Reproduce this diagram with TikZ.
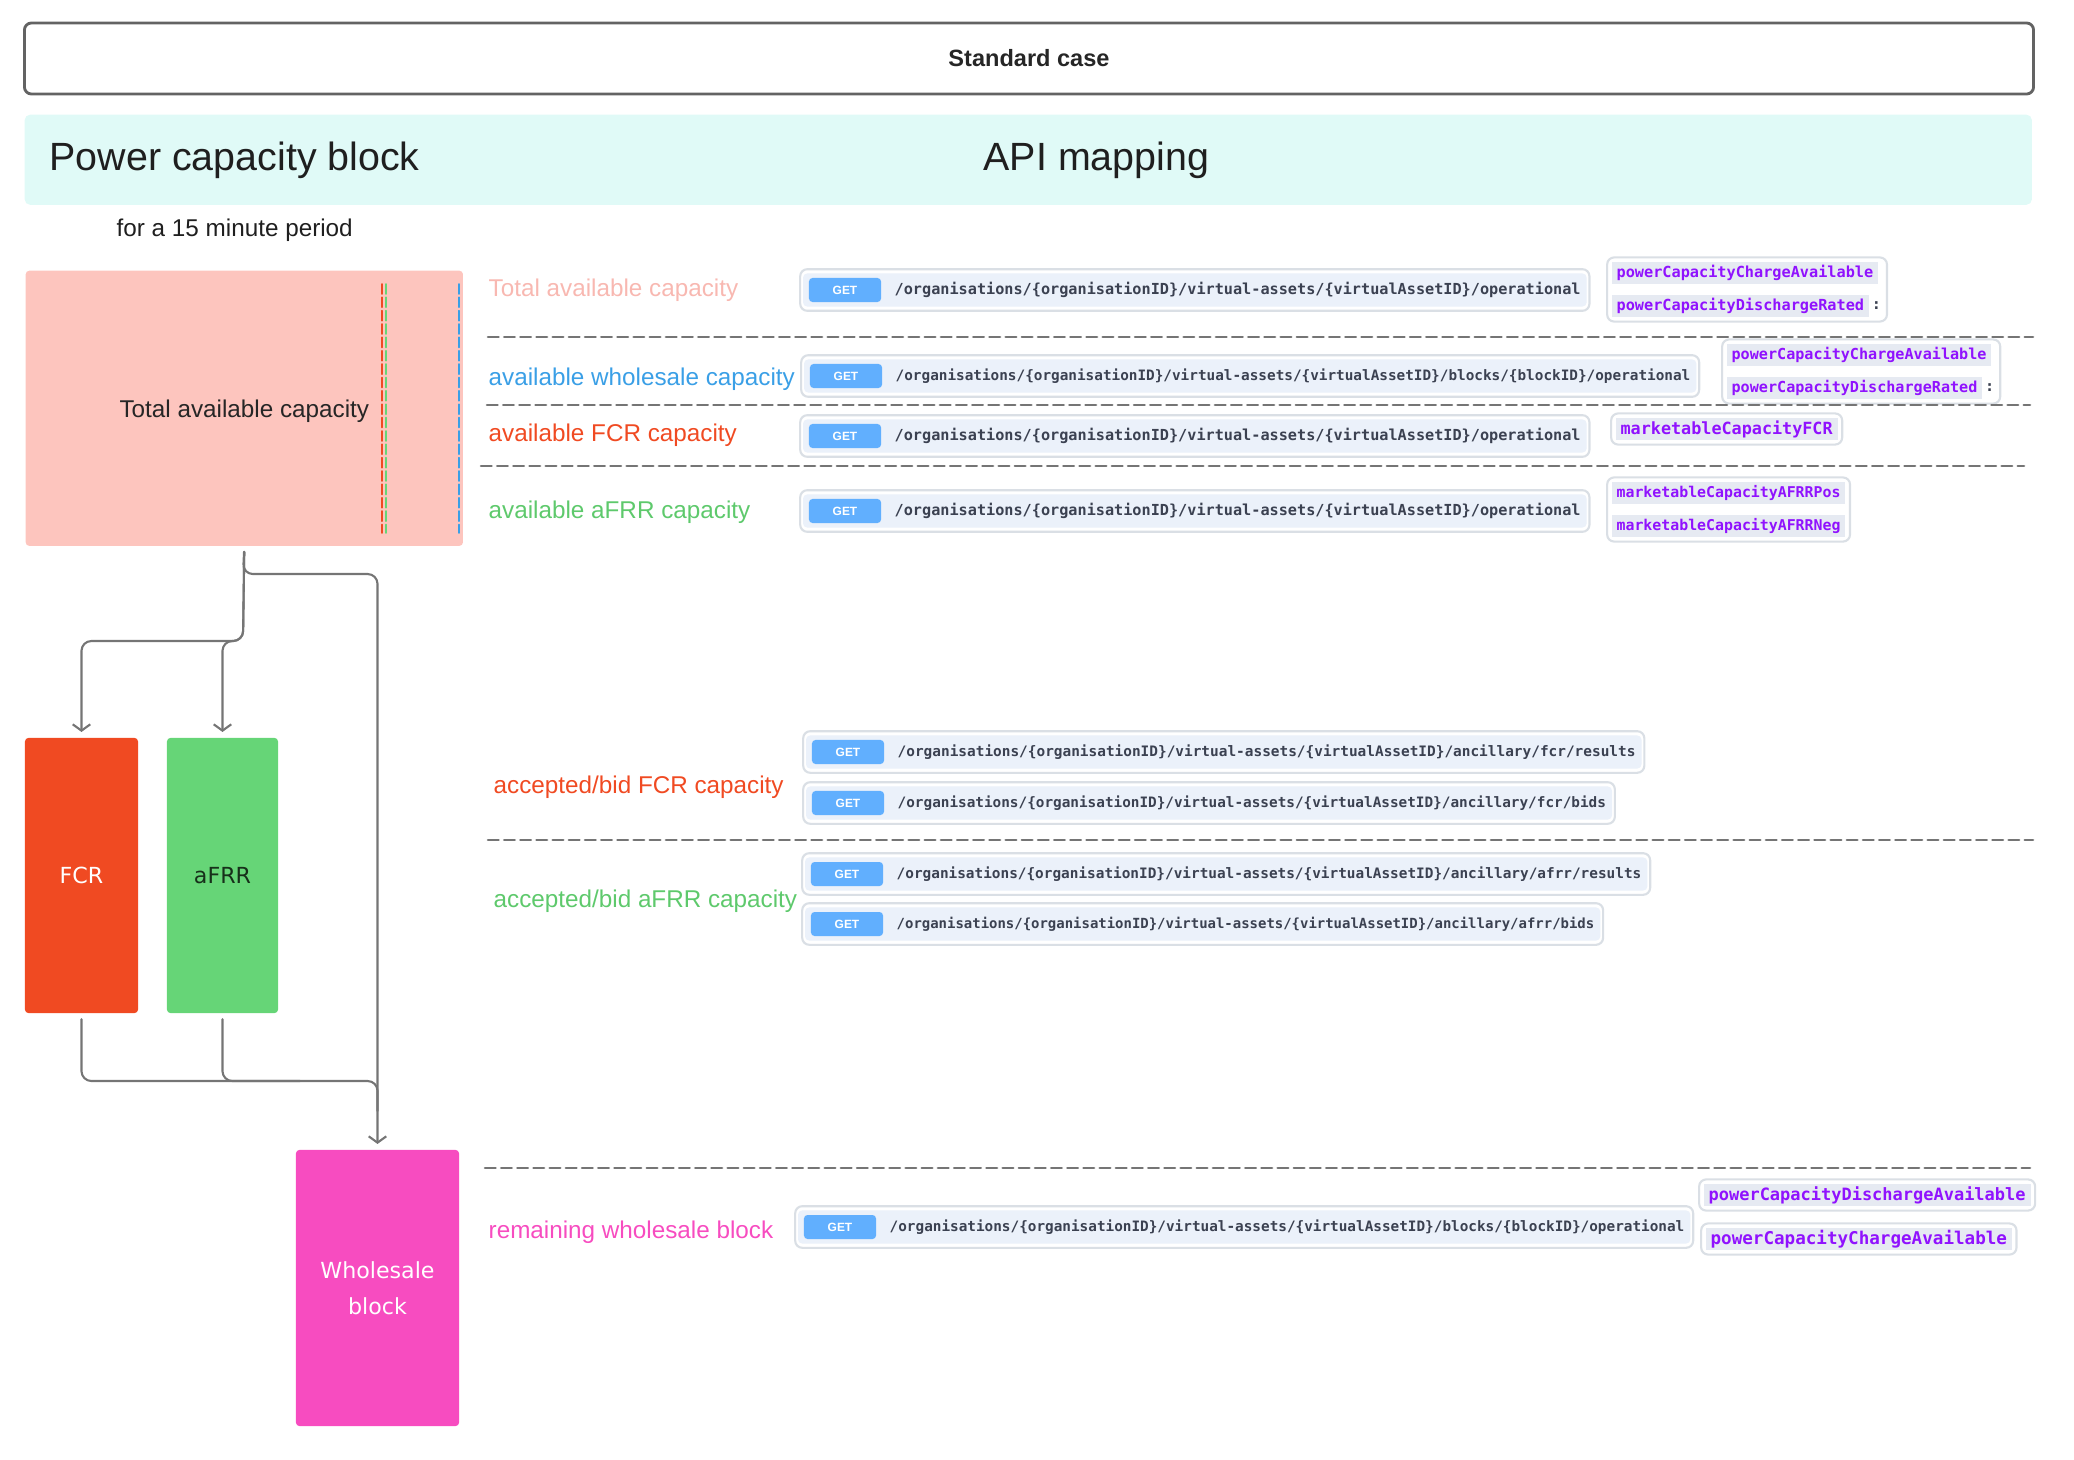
\documentclass[tikz,border=0pt]{standalone}
\usepackage{fontspec}
\setmainfont{Liberation Sans}
\setmonofont{DejaVu Sans Mono}
\newfontfamily\boxfont{DejaVu Sans}
\usetikzlibrary{arrows.meta,fit,backgrounds}

\definecolor{headbg}{HTML}{E0FAF7}
\definecolor{tacfill}{HTML}{FDC5BE}
\definecolor{taclabel}{HTML}{F8B8B1}
\definecolor{wsblue}{HTML}{3A9FE6}
\definecolor{fcrred}{HTML}{F04A22}
\definecolor{afrrgreen}{HTML}{66D577}
\definecolor{afrrtext}{HTML}{5EC96C}
\definecolor{afrrdark}{HTML}{17301A}
\definecolor{wspink}{HTML}{F74CC0}
\definecolor{linegray}{HTML}{757575}
\definecolor{apibg}{HTML}{EBF1FA}
\definecolor{apiedge}{HTML}{DADFE5}
\definecolor{apitext}{HTML}{3B4151}
\definecolor{getblue}{HTML}{61AFFE}
\definecolor{fieldbg}{HTML}{E6EAF2}
\definecolor{fieldtext}{HTML}{9012FE}

\newcommand\fsz[1]{\fontsize{#1pt}{#1pt}\selectfont}
\newcommand\orgpath{/organisations/\{organisationID\}/virtual-assets/\{virtualAssetID\}}

\begin{document}
\begin{tikzpicture}[x=0.01cm,y=-0.01cm,line cap=round,line join=round,
  sepline/.style={draw=linegray,line width=0.75pt,dash pattern=on 3pt off 1.6pt},
  vdash/.style={line width=0.55pt,dash pattern=on 2.8pt off 1pt},
  conn/.style={draw=linegray,line width=0.6pt,rounded corners=2.8pt,shorten <=1.5pt},
  arrowend/.style={-{Straight Barb[length=1.8pt,width=5pt]},shorten >=1.5pt},
  block/.style={rounded corners=1pt,inner sep=0pt,align=center,
    font=\boxfont\fontsize{6.3pt}{10.2pt}\selectfont},
  caplabel/.style={anchor=west,inner sep=0pt,font=\fsz{6.9}},
  apipath/.style={anchor=west,inner sep=0pt,text=apitext,font=\ttfamily\bfseries\fsz{#1}},
  getbadge/.style={fill=getblue,rounded corners=1pt,text=white,minimum width=0.72cm,
    minimum height=0.24cm,inner sep=0pt,font=\bfseries\fsz{3.4}},
  apiinner/.style={fill=apibg,rounded corners=1.2pt,inner xsep=1.5pt,inner ysep=1.1pt},
  apiouter/.style={draw=apiedge,fill=white,line width=0.6pt,rounded corners=2pt,
    inner xsep=2.3pt,inner ysep=2.3pt},
  field/.style={anchor=west,fill=fieldbg,text=fieldtext,inner xsep=1.4pt,inner ysep=0pt,
    minimum height=0.22cm,font=\ttfamily\bfseries\fsz{#1}},
  colon/.style={anchor=west,inner xsep=0.4pt,inner ysep=0.8pt,text=apitext,font=\ttfamily\bfseries\fsz{4.3}},
  fieldbox/.style={draw=apiedge,fill=white,line width=0.6pt,rounded corners=2pt,inner sep=1.1pt}]
  \useasboundingbox (0,0) rectangle (2074,1460);

  % header
  \node[draw=linegray!85!black,line width=0.8pt,rounded corners=2pt,minimum width=20.08cm,
    minimum height=0.71cm,font=\bfseries\fsz{6.7},text=black!85] (title) at (1029,58.5) {Standard case};
  \node[fill=headbg,rounded corners=1.5pt,minimum width=20.06cm,minimum height=0.90cm,
    inner sep=0pt,anchor=north west] (band) at (24,114) {};
  \node[anchor=west,inner sep=0pt,font=\fsz{11.2},text=black!88] (blockhead) at (49,160) {Power capacity block};
  \node[anchor=west,inner sep=0pt,font=\fsz{11.2},text=black!88] (apihead) at (983,160) {API mapping};
  \node[caplabel,text=black!88] (period) at (116,230) {for a 15 minute period};

  % capacity blocks
  \node[block,fill=tacfill,anchor=north west,minimum width=4.37cm,minimum height=2.75cm,
    font=\fsz{6.9},text depth=0pt,text=black!85] (tac) at (25,270) {Total available capacity};
  \draw[vdash,draw=fcrred] (382,284) -- (382,533);
  \draw[vdash,draw=afrrgreen] (386,284) -- (386,533);
  \draw[vdash,draw=wsblue] (459,284) -- (459,533);
  \node[block,fill=fcrred,text=white,minimum width=1.13cm,minimum height=2.75cm] (fcr) at (81.5,875.5) {FCR};
  \node[block,fill=afrrgreen,text=afrrdark,minimum width=1.11cm,minimum height=2.75cm] (afrr) at (222.5,875.5) {aFRR};
  \node[block,fill=wspink,text=white,minimum width=1.63cm,minimum height=2.76cm] (ws) at (377.5,1288) {Wholesale\\block};

  % connectors
  \coordinate (fork) at (243,641);
  \coordinate (bend) at (243,574);
  \coordinate (merge) at (377.5,1081);
  \draw[conn,arrowend] (tac.south) -- (fork) -| (fcr.north);
  \draw[conn,arrowend] (tac.south) -- (fork) -| (afrr.north);
  \draw[conn,arrowend] (tac.south) -- (bend) -| (ws.north);
  \draw[conn] (fcr.south) |- (merge) -- ++(0,30);
  \draw[conn] (afrr.south) |- (300,1081);

  % separators
  \draw[sepline] (488,337) -- (2033,337);
  \draw[sepline] (487,405) -- (2030,405);
  \draw[sepline] (481,466) -- (2024,466);
  \draw[sepline] (488,840) -- (2033,840);
  \draw[sepline] (485,1168) -- (2030,1168);

  % row labels
  \node[caplabel,text=taclabel] (ltac) at (488,290) {Total available capacity};
  \node[caplabel,text=wsblue] (lws) at (488,379) {available wholesale capacity};
  \node[caplabel,text=fcrred] (lfcr) at (488,435) {available FCR capacity};
  \node[caplabel,text=afrrtext] (lafrr) at (488,512) {available aFRR capacity};
  \node[caplabel,text=fcrred] (lfcrbid) at (493,787) {accepted/bid FCR capacity};
  \node[caplabel,text=afrrtext] (lafrrbid) at (493,901) {accepted/bid aFRR capacity};
  \node[caplabel,text=wspink] (lrest) at (488,1232) {remaining wholesale block};

  % endpoints
  \foreach \n/\x/\y/\s/\tail in {
    1/894/290/4.32/{/operational},
    2/895/376/4.08/{/blocks/\{blockID\}/operational},
    3/894/436/4.32/{/operational},
    4/894/511/4.32/{/operational},
    5/897/752/4.1/{/ancillary/fcr/results},
    6/897/803/4.08/{/ancillary/fcr/bids},
    7/896/874/4.09/{/ancillary/afrr/results},
    8/896/924/3.97/{/ancillary/afrr/bids},
    9/889/1227/4.08/{/blocks/\{blockID\}/operational}}
  {
    \node[apipath=\s] (path\n) at (\x,\y) {\orgpath\tail};
    \node[getbadge] (get\n) at (\x-49,\y) {GET};
    \begin{scope}[on background layer]
      \node[apiouter,fit=(get\n)(path\n)] (outer\n) {};
      \node[apiinner,fit=(get\n)(path\n)] (inner\n) {};
    \end{scope}
  }

  % fields
  \node[field=4.33] (f1a) at (1611,273) {powerCapacityChargeAvailable};
  \node[field=4.33] (f1b) at (1611,306) {powerCapacityDischargeRated};
  \node[colon] (f1c) at (f1b.east) {:};
  \node[field=4.3] (f2a) at (1726,355) {powerCapacityChargeAvailable};
  \node[field=4.3] (f2b) at (1726,388) {powerCapacityDischargeRated};
  \node[colon] (f2c) at (f2b.east) {:};
  \node[field=4.77] (f3a) at (1615,429) {marketableCapacityFCR};
  \node[field=4.23] (f4a) at (1611,493) {marketableCapacityAFRRPos};
  \node[field=4.23] (f4b) at (1611,526) {marketableCapacityAFRRNeg};
  \node[field=4.83] (f5a) at (1703,1195) {powerCapacityDischargeAvailable};
  \node[field=5.0] (f5b) at (1705,1239) {powerCapacityChargeAvailable};
  \begin{scope}[on background layer]
    \node[fieldbox,fit=(f1a)(f1b)(f1c)] (fbox1) {};
    \node[fieldbox,fit=(f2a)(f2b)(f2c)] (fbox2) {};
    \node[fieldbox,fit=(f3a)] (fbox3) {};
    \node[fieldbox,fit=(f4a)(f4b)] (fbox4) {};
    \node[fieldbox,fit=(f5a)] (fbox5) {};
    \node[fieldbox,fit=(f5b)] (fbox6) {};
  \end{scope}
\end{tikzpicture}
\end{document}
